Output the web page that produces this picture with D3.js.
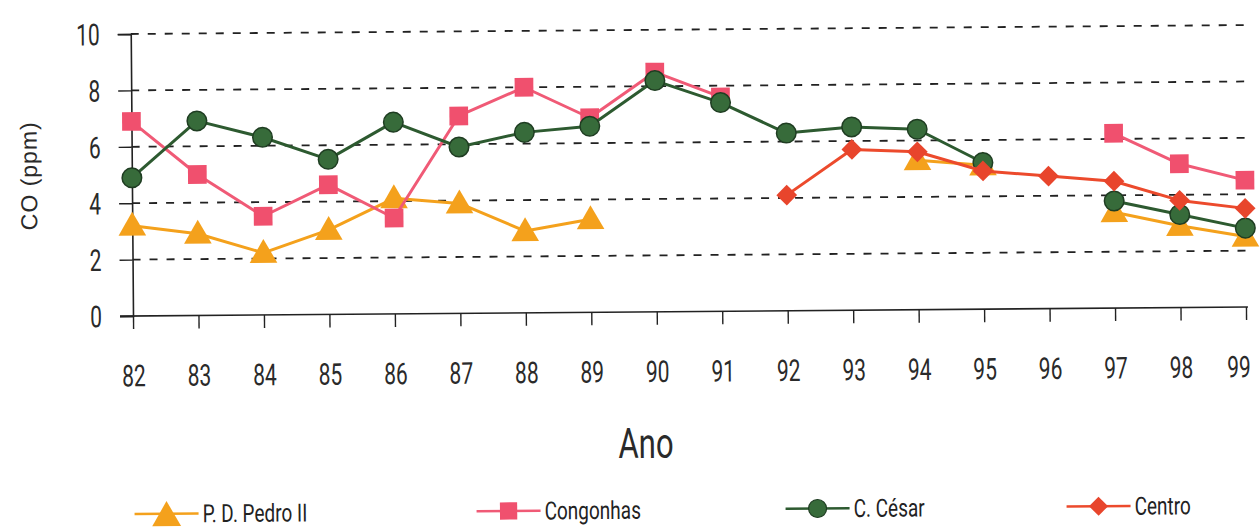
<!DOCTYPE html>
<html>
<head>
<meta charset="utf-8">
<script src="https://cdn.jsdelivr.net/npm/d3@7"></script>
<style>
  html, body { margin: 0; padding: 0; background: #fff; }
  svg { display: block; }
  .narrow { font-family: "Roboto", "DejaVu Sans", sans-serif; font-weight: 400; }
</style>
</head>
<body>
<svg id="chart" width="1260" height="528"></svg>
<script>
const years = ["82","83","84","85","86","87","88","89","90","91","92","93","94","95","96","97","98","99"];
const pedroII   = [3.2, 2.9, 2.2, 3.0, 4.1, 3.9, 2.9, 3.3, null, null, null, null, 5.3, 5.1, null, 3.4, 2.9, 2.5];
const congonhas = [6.9, 5.0, 3.5, 4.6, 3.4, 7.0, 8.0, 6.9, 8.5, 7.6, null, null, null, null, null, 6.2, 5.1, 4.5];
const cCesar    = [4.9, 6.9, 6.3, 5.5, 6.8, 5.9, 6.4, 6.6, 8.2, 7.4, 6.3, 6.5, 6.4, 5.2, null, 3.8, 3.3, 2.8];
const centro    = [null, null, null, null, null, null, null, null, null, null, 4.1, 5.7, 5.6, 4.9, 4.7, 4.5, 3.8, 3.5];
const yTicks = [0, 2, 4, 6, 8, 10];
const seriesNames = ["P. D. Pedro II", "Congonhas", "C. César", "Centro"];

const series = [
  { name: seriesNames[0], values: pedroII,   color: "#f4a11c", line: "#f4a11c", stroke: "none",    symbol: d3.symbolTriangle, size: 330, rot: 0,  dy: 2 },
  { name: seriesNames[1], values: congonhas, color: "#f0506e", line: "#f05a76", stroke: "none",    symbol: d3.symbolSquare,   size: 350, rot: 0,  dy: 0 },
  { name: seriesNames[2], values: cCesar,    color: "#376b3a", line: "#2d5a30", stroke: "#1f3d22", symbol: d3.symbolCircle,   size: 300, rot: 0,  dy: 0 },
  { name: seriesNames[3], values: centro,    color: "#e8452c", line: "#ec4a2c", stroke: "none",    symbol: d3.symbolSquare,   size: 215, rot: 45, dy: 0 }
];

function condense(sel, factor) {
  sel.each(function () {
    const l = this.getComputedTextLength();
    d3.select(this).attr("textLength", l * factor).attr("lengthAdjust", "spacingAndGlyphs");
  });
}

const svg = d3.select("#chart");
const root = svg.append("g").attr("transform", "rotate(-0.46, 133, 316)");

const x = d3.scalePoint().domain(years).range([133, 1246]);
const y = d3.scaleLinear().domain([0, 10]).range([316, 34]);

// gridlines
root.append("g").selectAll("line").data(yTicks.filter(t => t > 0)).join("line")
  .attr("x1", 133).attr("x2", 1250)
  .attr("y1", d => y(d)).attr("y2", d => y(d))
  .attr("stroke", "#222").attr("stroke-width", 1.8)
  .attr("stroke-dasharray", "8,9");

// y axis
const yAxis = root.append("g").attr("transform", "translate(133,0)")
  .call(d3.axisLeft(y).tickValues(yTicks).tickSize(13).tickPadding(18).tickFormat(d3.format("d")));
yAxis.select(".domain").attr("stroke", "#222").attr("stroke-width", 1.6);
yAxis.selectAll(".tick line").attr("stroke", "#222").attr("stroke-width", 1.4);
yAxis.selectAll(".tick text").attr("class", "narrow").attr("font-size", 30).attr("fill", "#2a2a2a").attr("dy", "0.35em")
  .call(condense, 0.7);

// x axis
const xAxis = root.append("g").attr("transform", "translate(0,316)")
  .call(d3.axisBottom(x).tickSize(13).tickPadding(36).tickSizeOuter(0));
xAxis.select(".domain").attr("stroke", "#222").attr("stroke-width", 1.6).attr("d", "M120,0H1248");
xAxis.selectAll(".tick line").attr("stroke", "#222").attr("stroke-width", 1.4);
xAxis.selectAll(".tick text").attr("class", "narrow").attr("font-size", 30).attr("fill", "#2a2a2a")
  .attr("dx", d => d === years[years.length - 1] ? -8 : 0)
  .call(condense, 0.7);

// axis titles
root.append("text").attr("transform", "translate(38,175) rotate(-90)")
  .attr("text-anchor", "middle").attr("font-family", "Liberation Sans, Arial, sans-serif")
  .attr("font-size", 23).attr("letter-spacing", 1).attr("fill", "#2a2a2a").text("CO (ppm)");
root.append("text").attr("class", "narrow").attr("x", 645).attr("y", 462)
  .attr("text-anchor", "middle").attr("font-size", 42).attr("fill", "#2a2a2a").text("Ano")
  .call(condense, 0.74);

// lines and markers
const line = d3.line().defined(d => d.v !== null).x(d => x(d.yr)).y(d => y(d.v));
series.forEach(s => {
  const pts = s.values.map((v, i) => ({ yr: years[i], v }));
  const g = root.append("g");
  g.append("path").datum(pts).attr("d", line)
    .attr("fill", "none").attr("stroke", s.line).attr("stroke-width", 3).attr("stroke-linejoin", "round");
  g.selectAll("path.m").data(pts.filter(d => d.v !== null)).join("path").attr("class", "m")
    .attr("d", d3.symbol().type(s.symbol).size(s.size))
    .attr("transform", d => `translate(${x(d.yr)},${y(d.v) + s.dy}) rotate(${s.rot})`)
    .attr("fill", s.color).attr("stroke", s.stroke).attr("stroke-width", 1.5);
});

// legend
const legendX = [133, 475, 784, 1065];
const lg = root.append("g").attr("transform", "translate(0,514)");
series.forEach((s, i) => {
  const g = lg.append("g").attr("transform", `translate(${legendX[i]},0)`);
  g.append("line").attr("x1", 0).attr("x2", 64).attr("y1", 0).attr("y2", 0)
    .attr("stroke", s.line).attr("stroke-width", 2.5);
  const sz = s.symbol === d3.symbolTriangle ? 360 : s.size * 0.85;
  g.append("path").attr("d", d3.symbol().type(s.symbol).size(sz)())
    .attr("transform", `translate(32,${s.dy * 2}) rotate(${s.rot})`)
    .attr("fill", s.color).attr("stroke", s.stroke).attr("stroke-width", 1.2);
  g.append("text").attr("class", "narrow").attr("x", 68).attr("y", 0).attr("dy", "0.35em")
    .attr("font-size", 25).attr("fill", "#222").text(s.name)
    .call(condense, 0.76);
});
</script>
</body>
</html>
